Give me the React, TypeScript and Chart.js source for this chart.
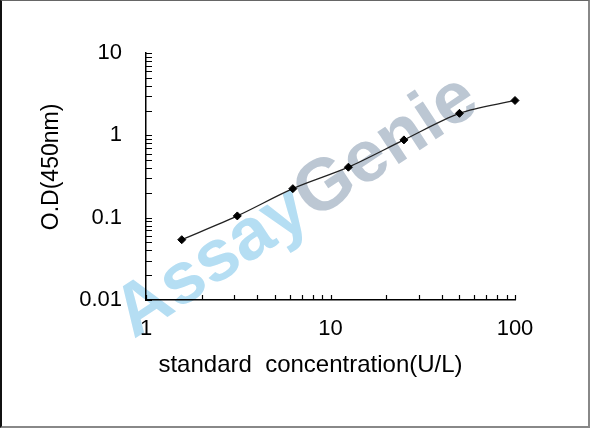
import React, { useEffect, useRef } from "react";
import { Chart, registerables } from "chart.js";

Chart.register(...registerables);

const concentrations = [1.5625, 3.125, 6.25, 12.5, 25, 50, 100];
const odValues = [0.054, 0.105, 0.225, 0.41, 0.88, 1.85, 2.65];
const xRange = [1, 100];
const yRange = [0.01, 10];
const xTitle = "standard  concentration(U/L)";
const yTitle = "O.D(450nm)";
const watermarkParts = ["Assay", "Genie"];

const FONT = "'Liberation Sans', Arial, sans-serif";

const isDecade = (v: number) => {
  const l = Math.log10(v);
  return Math.abs(l - Math.round(l)) < 1e-6;
};
const fmt = (v: number) => (v >= 1 ? String(Math.round(v)) : String(Number(v.toPrecision(1))));

const watermarkPlugin = {
  id: "watermark",
  beforeDraw(chart: any) {
    const ctx = chart.ctx;
    ctx.save();
    ctx.translate(297, 207);
    ctx.rotate((-33.5 * Math.PI) / 180);
    ctx.font = `bold 73px ${FONT}`;
    ctx.textBaseline = "middle";
    ctx.textAlign = "left";
    const total = ctx.measureText(watermarkParts.join("")).width;
    const first = ctx.measureText(watermarkParts[0]).width;
    ctx.fillStyle = "#b5def3";
    ctx.fillText(watermarkParts[0], -total / 2, 0);
    ctx.fillStyle = "#bcc7d3";
    ctx.fillText(watermarkParts[1], -total / 2 + first, 0);
    ctx.restore();
  },
};

const innerTicksPlugin = {
  id: "innerTicks",
  afterDraw(chart: any) {
    const ctx = chart.ctx;
    const xs = chart.scales.x;
    const ys = chart.scales.y;
    const area = chart.chartArea;
    ctx.save();
    ctx.strokeStyle = "#000";
    ctx.lineWidth = 1.2;
    ctx.beginPath();
    for (let k = Math.floor(Math.log10(xs.min)); k <= Math.ceil(Math.log10(xs.max)); k++) {
      for (let m = 1; m <= 9; m++) {
        const v = m * Math.pow(10, k);
        if (v < xs.min * 0.9999 || v > xs.max * 1.0001) continue;
        const px = Math.round(xs.getPixelForValue(v)) + 0.5;
        ctx.moveTo(px, area.bottom);
        ctx.lineTo(px, area.bottom - 5);
      }
    }
    for (let k = Math.floor(Math.log10(ys.min)); k <= Math.ceil(Math.log10(ys.max)); k++) {
      for (let m = 1; m <= 9; m++) {
        const v = m * Math.pow(10, k);
        if (v < ys.min * 0.9999 || v > ys.max * 1.0001) continue;
        const py = Math.round(ys.getPixelForValue(v)) + 0.5;
        ctx.moveTo(area.left, py);
        ctx.lineTo(area.left + 6, py);
      }
    }
    ctx.stroke();
    ctx.restore();
  },
};

export default function App() {
  const canvasRef = useRef<HTMLCanvasElement | null>(null);

  useEffect(() => {
    if (!canvasRef.current) return;
    const tickFont = { family: FONT, size: 22 };
    const chart = new Chart(canvasRef.current, {
      type: "line",
      data: {
        datasets: [
          {
            data: concentrations.map((x, i) => ({ x, y: odValues[i] })),
            borderColor: "#222",
            borderWidth: 1.3,
            backgroundColor: "#000",
            pointBackgroundColor: "#000",
            pointBorderColor: "#000",
            pointStyle: "rectRot",
            pointRadius: 4,
            pointBorderWidth: 1,
            tension: 0.3,
            fill: false,
            clip: false as any,
          },
        ],
      },
      options: {
        animation: false,
        responsive: false,
        devicePixelRatio: 1,
        layout: { padding: { left: 0, top: 53, right: 75, bottom: 0 } },
        plugins: {
          legend: { display: false },
          tooltip: { enabled: false },
        },
        scales: {
          x: {
            type: "logarithmic",
            position: "bottom",
            min: xRange[0],
            max: xRange[1],
            afterFit: (s: any) => {
              s.height = 128;
            },
            grid: { display: true, drawOnChartArea: false, drawTicks: false },
            border: { display: true, color: "#000", width: 1.5 },
            ticks: {
              autoSkip: false,
              maxRotation: 0,
              minRotation: 0,
              padding: 16,
              color: "#000",
              font: tickFont,
              callback: (v: any) => (isDecade(Number(v)) ? fmt(Number(v)) : ""),
            },
            title: {
              display: true,
              text: xTitle + "      ",
              color: "#000",
              font: { family: FONT, size: 24 },
              padding: { top: 0, bottom: 48 },
            },
          },
          y: {
            type: "logarithmic",
            position: "left",
            min: yRange[0],
            max: yRange[1],
            afterFit: (s: any) => {
              s.width = 146;
            },
            grid: { display: true, drawOnChartArea: false, drawTicks: false },
            border: { display: true, color: "#000", width: 1.5 },
            ticks: {
              autoSkip: false,
              padding: 24,
              color: "#000",
              font: tickFont,
              callback: (v: any) => (isDecade(Number(v)) ? fmt(Number(v)) : ""),
            },
            title: {
              display: true,
              text: "   " + yTitle,
              color: "#000",
              font: { family: FONT, size: 23 },
              padding: { top: 38, bottom: 0 },
            },
          },
        },
      } as any,
      plugins: [watermarkPlugin, innerTicksPlugin],
    });
    return () => chart.destroy();
  }, []);

  return (
    <div style={{ position: "absolute", left: 0, top: 0, width: 590, height: 428, background: "#fff" }}>
      <canvas ref={canvasRef} width={590} height={428} style={{ position: "absolute", left: 0, top: 0 }} />
      <div
        style={{
          position: "absolute",
          left: 0,
          top: 0,
          width: 590,
          height: 428,
          boxSizing: "border-box",
          borderLeft: "2px solid #111",
          borderTop: "1px solid #666",
          borderRight: "2px solid #888",
          borderBottom: "2px solid #888",
          pointerEvents: "none",
        }}
      />
    </div>
  );
}
